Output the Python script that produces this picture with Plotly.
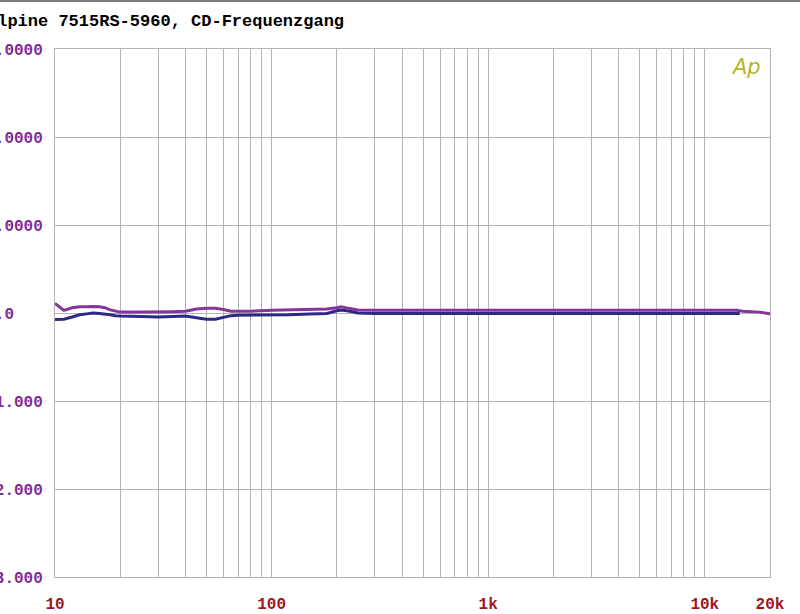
import plotly.graph_objects as go

# ---- data (dB vs Hz) ----
freq_purple = [10, 11, 12, 13, 14, 15, 16, 17, 18, 19, 20, 25, 30, 35, 40, 45, 50, 55, 60, 65, 70, 80,
               100, 120, 150, 180, 200, 210, 230, 250, 300, 500, 1000, 2000, 5000, 10000, 14000, 15000, 18000, 20000]
level_purple = [0.11, 0.03, 0.06, 0.07, 0.07, 0.075, 0.07, 0.06, 0.035, 0.02, 0.01, 0.01, 0.01, 0.015, 0.02, 0.045,
                0.055, 0.055, 0.04, 0.02, 0.02, 0.02, 0.03, 0.035, 0.04, 0.045, 0.06, 0.07, 0.05, 0.035, 0.03,
                0.03, 0.03, 0.03, 0.03, 0.03, 0.03, 0.02, 0.01, -0.01]

freq_blue = [10, 11, 12, 13, 14, 15, 16, 17, 18, 19, 20, 25, 30, 35, 40, 45, 50, 55, 60, 65, 70, 80,
             100, 120, 150, 180, 200, 210, 230, 250, 300, 500, 1000, 2000, 5000, 10000, 14500]
level_blue = [-0.075, -0.07, -0.045, -0.02, -0.01, 0.0, -0.005, -0.01, -0.02, -0.03, -0.035, -0.04, -0.045, -0.04,
              -0.035, -0.055, -0.07, -0.07, -0.05, -0.03, -0.025, -0.025, -0.025, -0.02, -0.01, -0.005, 0.025,
              0.035, 0.02, 0.0, -0.005, -0.005, -0.005, -0.005, -0.005, -0.005, -0.005]

x_tickvals = [10, 100, 1000, 10000, 20000]
x_ticktext = ["10", "100", "1k", "10k", "20k"]
x_minor = [20, 30, 40, 50, 60, 70, 80, 90, 200, 300, 400, 500, 600, 700, 800, 900,
           2000, 3000, 4000, 5000, 6000, 7000, 8000, 9000]
y_tickvals = [3, 2, 1, 0, -1, -2, -3]
y_ticktext = ["+3.0000", "+2.0000", "+1.0000", "+0.0\u00a0\u00a0\u00a0", "-1.000", "-2.000", "-3.000"]

title_text = "Alpine 7515RS-5960, CD-Frequenzgang"

GRID = "#b4b4b4"
PURPLE = "#84349a"
BLUE = "#2a2a86"
MONO = "Liberation Mono, DejaVu Sans Mono, monospace"

fig = go.Figure()
fig.add_trace(go.Scatter(x=freq_blue, y=level_blue, mode="lines",
                         line=dict(color=BLUE, width=3), showlegend=False))
fig.add_trace(go.Scatter(x=freq_purple, y=level_purple, mode="lines",
                         line=dict(color=PURPLE, width=3), showlegend=False))

L, R, T, B = 55, 30, 49, 37
W, H = 800, 614
pw, ph = W - L - R, H - T - B

fig.update_layout(
    width=W, height=H,
    margin=dict(l=L, r=R, t=T, b=B, autoexpand=False),
    paper_bgcolor="white", plot_bgcolor="white",
    xaxis=dict(type="log", range=[1, 4.30103], tickvals=x_tickvals, ticktext=x_ticktext,
               showgrid=True, gridcolor=GRID, gridwidth=1,
               minor=dict(tickvals=x_minor, showgrid=True, gridcolor=GRID, gridwidth=1, ticks=""),
               showline=True, linecolor=GRID, linewidth=1, mirror=True,
               ticks="", ticklabelstandoff=12, zeroline=False,
               tickfont=dict(family=MONO, size=16, color="#a0141e", weight="bold")),
    yaxis=dict(range=[-3, 3], tickvals=y_tickvals, ticktext=y_ticktext,
               showgrid=True, gridcolor=GRID, gridwidth=1, zeroline=False,
               showline=True, linecolor=GRID, linewidth=1, mirror=True,
               ticks="", ticklabelstandoff=8, automargin=False,
               tickfont=dict(family=MONO, size=16, color="#7d2f91", weight="bold")),
    annotations=[
        dict(text=title_text, xref="paper", yref="paper", x=(-15 - L) / pw, y=1 + (T - 21) / ph,
             xanchor="left", yanchor="middle", showarrow=False,
             font=dict(family=MONO, size=17, color="black", weight="bold")),
        dict(text="<i>Ap</i>", xref="paper", yref="paper", x=(746 - L) / pw, y=1 - (67 - T) / ph,
             xanchor="center", yanchor="middle", showarrow=False,
             font=dict(family="DejaVu Sans, sans-serif", size=21, color="#b5b52a")),
    ],
    shapes=[
        dict(type="line", xref="paper", yref="paper", x0=-L / pw, x1=(W - L) / pw,
             y0=1 + (T - 1) / ph, y1=1 + (T - 1) / ph, line=dict(color="#7a7a7a", width=2)),
    ],
)

fig.write_html("out.html", config={"displayModeBar": False},
               post_script="document.body.style.margin='0';document.body.style.padding='0';"
                           "document.body.style.overflow='hidden';")
